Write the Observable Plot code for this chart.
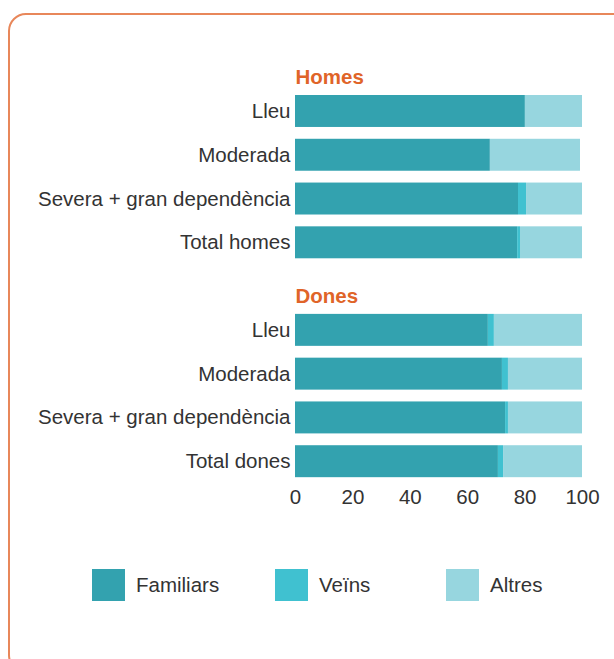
<!DOCTYPE html>
<html>
<head>
<meta charset="utf-8">
<script src="https://cdn.jsdelivr.net/npm/d3@7"></script>
<script src="https://cdn.jsdelivr.net/npm/@observablehq/plot@0.6"></script>
<style>
  html, body { margin: 0; padding: 0; background: #fff; width: 614px; height: 659px; overflow: hidden; }
  body { position: relative; font-family: "Liberation Sans", Arial, Helvetica, sans-serif; }
  #frame { position: absolute; left: 8px; top: 13px; width: 640px; height: 660px; border: 2px solid #E8875A; border-radius: 18px; box-sizing: border-box; }
  #chart { position: absolute; left: 0; top: 0; }
  .leg { position: absolute; top: 569px; height: 32px; display: flex; align-items: center; font-size: 20.5px; color: #333; }
  .sw { width: 33px; height: 32px; margin-right: 11px; }
</style>
</head>
<body>
<div id="frame"></div>
<div id="chart"></div>
<div id="legend"></div>
<script>
const types = ["Familiars", "Veïns", "Altres"];
const colors = ["#33A2AF", "#40C1D0", "#97D6DF"];
const groups = ["Homes", "Dones"];
const rowsHomes = ["Lleu", "Moderada", "Severa + gran dependència", "Total homes"];
const rowsDones = ["Lleu", "Moderada", "Severa + gran dependència", "Total dones"];
const familiarsHomes = [80.1, 67.9, 77.7, 77.4];
const veinsHomes = [0, 0, 2.8, 1.0];
const altresHomes = [19.9, 31.4, 19.5, 21.6];
const familiarsDones = [67.2, 72.1, 73.2, 70.7];
const veinsDones = [2.1, 2.1, 1.0, 1.8];
const altresDones = [30.7, 25.8, 25.8, 27.5];
const xTicks = [0, 20, 40, 60, 80, 100];

// build tidy table
const data = [];
const domain = [];
const labelOf = {};
function addGroup(g, rows, fam, vei, alt) {
  const hk = "hdr-" + g;
  domain.push(hk);
  labelOf[hk] = "";
  rows.forEach((r, i) => {
    const k = g + "-" + i;
    domain.push(k);
    labelOf[k] = r;
    [fam[i], vei[i], alt[i]].forEach((v, j) => data.push({key: k, type: types[j], value: v}));
  });
}
addGroup("Homes", rowsHomes, familiarsHomes, veinsHomes, altresHomes);
addGroup("Dones", rowsDones, familiarsDones, veinsDones, altresDones);
const headers = groups.map(g => ({key: "hdr-" + g, label: g}));

const chart = Plot.plot({
  width: 614,
  height: 520,
  marginLeft: 295,
  marginRight: 32,
  marginTop: 39.4,
  marginBottom: 31,
  style: {fontFamily: "'Liberation Sans', Arial, Helvetica, sans-serif", fontSize: "20.5px", color: "#333", background: "transparent"},
  x: {domain: [0, 100], ticks: xTicks, tickSize: 0, tickPadding: 0, label: null},
  y: {domain, padding: 0.27, round: false, tickSize: 0, tickPadding: 5, tickFormat: d => labelOf[d], label: null},
  color: {domain: types, range: colors},
  marks: [
    Plot.barX(data, Plot.stackX({x: "value", y: "key", fill: "type", order: types})),
    Plot.text(headers, {x: 0, y: "key", text: "label", textAnchor: "start", dy: 10, fill: "#E06428", fontWeight: "bold", fontSize: 20.5})
  ]
});
document.getElementById("chart").appendChild(chart);

// legend
const legX = [92, 275, 446];
const leg = document.getElementById("legend");
types.forEach((t, i) => {
  const d = document.createElement("div");
  d.className = "leg";
  d.style.left = legX[i] + "px";
  const s = document.createElement("div");
  s.className = "sw";
  s.style.background = colors[i];
  const tx = document.createElement("span");
  tx.textContent = t;
  d.appendChild(s);
  d.appendChild(tx);
  leg.appendChild(d);
});
</script>
</body>
</html>
